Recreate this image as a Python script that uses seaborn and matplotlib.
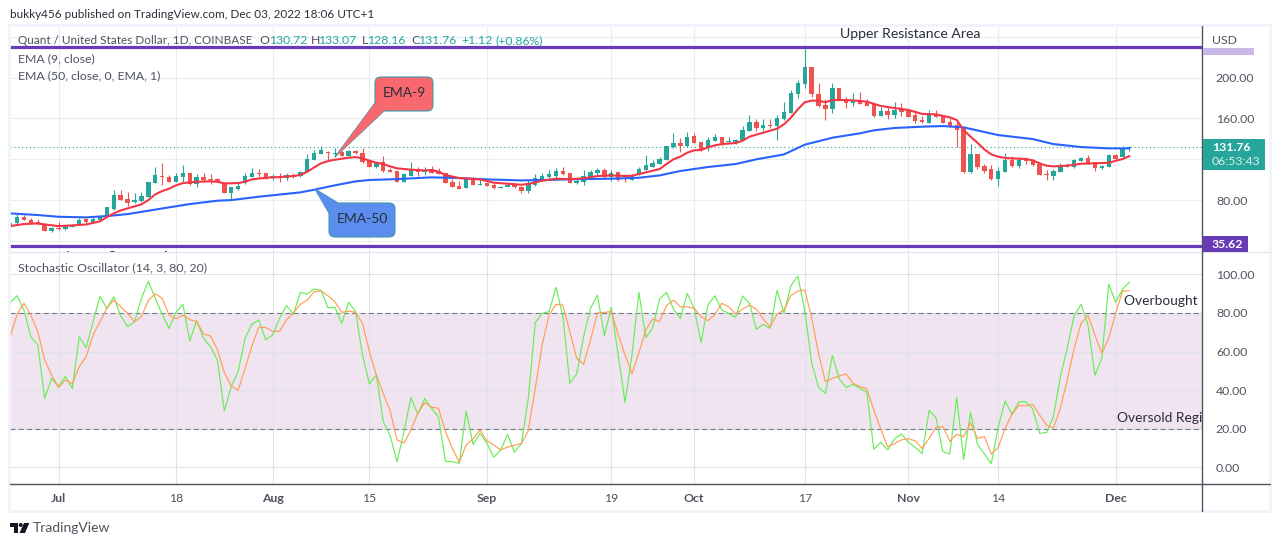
"""
plot.py
Quant / USD daily chart with EMA lines and a stochastic oscillator pane.
"""

import matplotlib.pyplot as plt
import pandas as pd
import seaborn as sns
from matplotlib.lines import Line2D
from matplotlib.patches import Circle, FancyBboxPatch, Polygon, Rectangle
from matplotlib.transforms import Affine2D

first_day = "2022-06-24"
offset_base = pd.Timestamp("2022-07-01")

candle_open = [54.3, 57.5, 63.7, 60.8, 59.2, 57.2, 50.0, 53.0, 51.7, 54.3, 56.9, 61.4, 58.2, 60.8, 64.0, 71.2, 84.9, 81.0, 78.4, 79.3,
    83.3, 97.3, 103.8, 103.1, 98.2, 103.1, 106.4, 96.0, 102.8, 100.8, 100.8, 97.3, 87.5, 91.4, 97.3, 102.8, 107.0, 106.4, 102.1, 103.1,
    101.8, 104.8, 104.1, 107.7, 119.4, 125.3, 127.6, 125.3, 127.6, 123.3, 128.2, 125.9, 118.4, 112.2, 117.8, 109.6, 108.7, 98.2, 103.8, 110.6,
    107.4, 110.6, 109.0, 106.4, 97.6, 94.0, 92.4, 100.5, 95.3, 97.3, 95.0, 92.4, 93.4, 96.0, 93.4, 89.1, 94.7, 99.9, 102.5, 104.1,
    108.7, 106.4, 97.3, 98.2, 103.1, 106.7, 109.6, 103.1, 107.4, 105.1, 99.9, 104.8, 109.6, 112.9, 115.5, 119.4, 131.8, 136.0, 133.1, 142.5,
    137.0, 130.8, 138.0, 141.6, 137.0, 137.0, 139.0, 147.7, 156.2, 150.3, 153.9, 152.6, 159.1, 165.7, 184.2, 193.7, 210.3, 183.9, 173.1, 169.6,
    189.8, 179.3, 175.4, 178.0, 176.4, 174.1, 162.7, 167.0, 163.4, 169.2, 168.3, 163.4, 158.5, 155.9, 164.4, 162.7, 156.5, 153.6, 149.7, 107.4,
    125.3, 113.5, 110.3, 100.8, 108.0, 119.4, 113.9, 119.4, 118.8, 115.8, 105.7, 104.1, 108.0, 112.6, 112.9, 118.8, 121.0, 117.1, 111.9, 112.9,
    124.3, 122.7, 130.72]
candle_high = [59.2, 66.3, 65.7, 62.4, 61.4, 57.9, 53.6, 59.2, 55.5, 56.5, 62.4, 62.4, 63.4, 64.4, 73.5, 90.1, 90.1, 88.5, 87.5, 88.5,
    98.2, 112.9, 116.2, 104.4, 106.4, 114.5, 107.0, 105.7, 107.0, 105.7, 101.8, 97.9, 93.4, 98.2, 106.4, 111.3, 110.3, 106.7, 105.7, 106.4,
    107.0, 107.0, 108.3, 125.3, 129.2, 133.1, 128.5, 130.8, 128.5, 129.2, 129.2, 130.8, 118.7, 117.1, 123.3, 111.3, 109.0, 106.4, 117.1, 112.9,
    112.9, 113.9, 111.3, 107.0, 100.5, 99.2, 101.2, 103.1, 101.2, 97.9, 97.3, 93.7, 97.3, 96.6, 93.7, 99.9, 105.7, 107.0, 109.6, 111.3,
    112.9, 107.0, 100.5, 109.6, 109.6, 111.6, 111.6, 109.6, 108.0, 105.7, 105.7, 112.9, 124.3, 119.4, 122.7, 133.5, 145.5, 140.6, 146.8, 145.5,
    137.3, 141.6, 144.8, 142.2, 141.6, 139.9, 152.6, 163.4, 159.1, 159.1, 159.1, 163.4, 176.1, 187.8, 197.6, 227.9, 210.6, 194.3, 178.7, 194.3,
    190.1, 181.3, 185.2, 186.2, 178.7, 174.4, 170.9, 170.9, 175.8, 174.8, 169.6, 168.3, 162.7, 168.3, 168.3, 163.4, 160.1, 158.5, 151.3, 135.0,
    125.6, 115.5, 114.5, 112.9, 125.9, 123.6, 122.0, 122.0, 120.1, 116.2, 109.6, 110.3, 116.2, 116.2, 120.1, 122.7, 124.3, 117.8, 114.5, 125.3,
    125.3, 133.1, 133.07]
candle_low = [53.6, 56.9, 60.5, 56.9, 56.2, 50.4, 48.7, 51.0, 51.4, 54.0, 56.5, 58.2, 57.9, 60.5, 63.7, 70.6, 80.0, 74.5, 77.1, 78.7,
    83.0, 97.0, 95.0, 98.0, 97.9, 98.2, 94.7, 93.4, 98.2, 95.6, 97.9, 87.3, 80.3, 90.1, 96.0, 102.5, 103.1, 100.8, 99.9, 98.2,
    99.9, 101.5, 103.1, 107.4, 119.0, 124.9, 119.4, 122.7, 123.0, 123.0, 125.6, 116.8, 112.6, 111.9, 107.7, 107.7, 97.9, 97.9, 103.5, 104.1,
    104.8, 106.4, 105.4, 96.6, 93.0, 90.8, 92.1, 94.7, 95.0, 93.7, 90.7, 92.1, 93.1, 92.4, 87.5, 87.5, 94.4, 99.5, 102.1, 101.5,
    104.4, 97.0, 96.0, 95.0, 102.8, 103.8, 100.8, 98.9, 98.6, 98.2, 99.5, 104.4, 109.3, 112.2, 115.2, 119.0, 131.5, 127.6, 131.8, 135.7,
    128.5, 128.5, 137.7, 134.1, 136.6, 135.0, 138.7, 147.4, 148.1, 148.1, 151.0, 139.0, 158.8, 165.4, 180.3, 190.1, 181.3, 170.9, 158.5, 165.7,
    177.7, 170.5, 172.2, 173.8, 172.2, 161.7, 162.4, 159.8, 160.1, 162.4, 161.4, 155.9, 155.9, 155.6, 161.4, 155.6, 152.0, 132.4, 106.4, 106.4,
    110.3, 107.0, 99.9, 94.3, 107.7, 112.2, 111.6, 115.2, 113.5, 104.5, 99.9, 99.9, 107.4, 112.2, 111.3, 118.5, 115.2, 109.0, 110.9, 112.6,
    120.1, 122.4, 128.16]
candle_close = [58.2, 64.0, 60.8, 57.5, 56.9, 50.4, 53.0, 51.7, 54.9, 55.9, 60.8, 59.2, 61.8, 63.4, 73.2, 84.9, 80.3, 77.7, 80.3, 84.2,
    97.9, 104.8, 102.5, 98.2, 103.8, 106.4, 96.0, 102.8, 99.9, 99.5, 98.2, 87.5, 92.7, 94.3, 104.1, 106.4, 105.7, 101.2, 103.8, 102.1,
    104.4, 103.1, 107.4, 120.4, 126.2, 128.9, 126.6, 125.9, 123.3, 128.5, 125.9, 117.8, 112.9, 116.5, 108.3, 108.0, 98.2, 105.7, 110.6, 107.4,
    109.6, 107.0, 105.7, 96.9, 93.4, 91.1, 100.5, 95.0, 96.3, 94.0, 92.4, 93.4, 95.0, 92.7, 89.1, 97.3, 101.5, 103.8, 105.7, 108.7,
    106.1, 97.3, 98.9, 103.8, 107.7, 109.6, 102.5, 107.0, 99.9, 103.1, 103.8, 110.6, 114.5, 116.2, 120.4, 133.1, 136.0, 133.1, 142.2, 136.0,
    130.2, 139.0, 142.2, 136.3, 137.6, 139.0, 148.7, 156.5, 151.0, 153.6, 152.6, 160.4, 166.0, 184.9, 194.3, 210.3, 183.9, 172.2, 169.6, 189.8,
    178.0, 175.4, 178.0, 174.1, 172.5, 162.4, 167.0, 163.4, 168.3, 166.6, 161.7, 157.5, 156.9, 164.0, 161.7, 155.9, 153.0, 149.0, 107.4, 125.3,
    112.9, 108.7, 100.8, 108.3, 119.4, 113.5, 119.4, 118.8, 114.5, 104.8, 104.4, 108.7, 112.2, 113.5, 119.4, 121.0, 115.5, 111.9, 113.5, 124.3,
    120.4, 130.8, 131.76]

# days counted from Jul 1, the lines were read at these days
ema9_days = [-7, -5, -3, -2, 0, 2, 4, 6, 7, 8, 9, 10, 12, 13, 14, 15, 16, 17, 18, 20, 22, 23, 24, 26, 27, 28, 30, 32, 34, 35, 36, 37, 38, 39,
    40, 42, 43, 44, 45, 46, 47, 48, 49, 51, 53, 54, 55, 56, 58, 61, 63, 65, 67, 68, 70, 72, 74, 76, 78, 80, 82, 83, 84, 85, 87, 88, 89, 90,
    91, 92, 93, 94, 95, 96, 98, 99, 100, 101, 102, 104, 105, 106, 107, 108, 109, 110, 111, 112, 114, 116, 117, 119, 121, 123, 125, 127, 129,
    130, 131, 132, 133, 134, 135, 136, 137, 139, 140, 141, 142, 143, 144, 146, 148, 150, 152, 154, 155]
ema9_values = [54.9, 56.9, 57.5, 56.5, 54.9, 55.6, 56.5, 59.5, 63.7, 67.3, 70.2, 72.2, 76.1, 80.3, 85.9, 89.1, 91.4, 94.7, 96.9, 98.2, 98.6, 98.2, 96.6, 96.9, 98.2, 100.5, 102.1, 102.8, 103.8, 104.8, 108.0, 112.2, 116.2, 118.4,
    119.7, 121.7, 122.3, 121.0, 118.8, 116.8, 115.5, 113.2, 111.3, 110.0, 109.3, 109.6, 108.0, 104.8, 101.8, 100.5, 97.3, 96.3, 95.3, 96.0, 99.2, 101.2, 100.8, 101.5, 103.8, 104.4, 103.8, 104.1, 105.7, 107.4, 110.6, 115.5, 120.1, 122.7,
    126.6, 128.9, 129.2, 131.8, 133.7, 135.0, 136.0, 138.3, 142.2, 144.2, 146.1, 150.0, 154.3, 160.8, 168.9, 175.8, 177.4, 177.4, 175.8, 178.0, 178.0, 177.1, 176.4, 172.2, 170.2, 168.3, 164.4, 164.0, 161.1,
    158.5, 148.7, 142.2, 136.3, 129.8, 124.9, 122.7, 121.4, 120.7, 120.4, 119.1, 116.2, 113.9, 113.2, 113.9, 115.8, 116.2, 116.8, 120.4, 123.3]

ema50_days = [-7, -3, 0, 4, 7, 10, 13, 16, 19, 23, 25, 29, 35, 37, 40, 43, 45, 49, 54, 58, 62, 67, 70, 76, 80, 84, 87, 90, 94, 98, 101, 105, 108, 112, 116,
    118, 121, 125, 128, 131, 136, 141, 144, 148, 152, 155]
ema50_values = [67.3, 65.7, 64.0, 63.4, 64.7, 66.6, 69.9, 73.2, 76.4, 79.7, 80.3, 83.6, 87.8, 90.4, 94.7, 98.6, 99.9, 100.8, 102.5, 101.8, 100.5, 99.5, 99.9, 100.8, 101.2, 102.1, 104.4, 108.7, 112.6, 115.5, 120.1, 124.9, 134.4, 141.2, 145.5,
    148.4, 150.7, 152.0, 152.6, 151.3, 143.8, 139.9, 135.0, 132.1, 130.8, 130.8]

stoch_k = [85.3, 88.9, 81.5, 67.7, 63.4, 35.7, 46.1, 41.8, 47.1, 40.9, 67.7, 62.0, 75.5, 88.6, 82.4, 88.4, 78.4, 72.9, 75.5, 87.6,
    96.4, 87.6, 79.3, 72.0, 80.3, 84.5, 65.5, 76.0, 66.8, 62.5, 55.6, 29.2, 41.8, 49.6, 66.8, 74.3, 76.3, 66.1, 68.6, 77.2,
    83.8, 79.3, 90.7, 89.8, 92.4, 91.7, 82.7, 82.9, 74.6, 85.5, 80.7, 58.2, 43.3, 47.8, 23.7, 16.4, 2.9, 18.5, 36.1, 27.5,
    35.7, 30.6, 25.9, 3.1, 2.9, 2.1, 29.2, 11.9, 17.6, 12.4, 5.2, 9.0, 17.1, 7.8, 12.4, 35.7, 75.0, 79.8, 80.7, 93.3,
    78.4, 43.5, 48.4, 67.7, 82.4, 89.3, 68.2, 82.9, 58.2, 33.7, 58.2, 90.7, 67.2, 72.4, 87.2, 90.7, 82.0, 77.2, 90.1, 82.4,
    64.8, 84.1, 88.9, 81.5, 79.8, 77.7, 88.8, 85.0, 71.5, 74.1, 72.0, 91.7, 79.8, 94.1, 99.1, 81.5, 54.4, 41.4, 38.3, 57.9,
    45.8, 41.4, 43.0, 40.9, 38.9, 9.3, 13.0, 9.0, 14.7, 17.3, 13.0, 10.4, 7.1, 29.4, 25.7, 8.1, 6.9, 36.3, 4.0, 28.5,
    11.9, 6.9, 1.9, 20.7, 34.4, 27.5, 34.0, 34.0, 30.2, 17.6, 18.1, 26.3, 47.0, 61.7, 78.6, 84.5, 73.7, 47.7, 56.5, 95.0,
    85.5, 92.4, 96.0]
stoch_d = [67.7, 79.3, 85.0, 78.9, 70.3, 55.6, 47.8, 41.4, 45.2, 43.3, 52.2, 57.3, 68.6, 75.5, 82.4, 86.7, 83.2, 79.8, 75.5, 78.1,
    86.4, 90.0, 87.6, 78.9, 77.0, 78.8, 76.5, 75.5, 69.1, 68.0, 61.1, 49.2, 42.1, 39.9, 51.3, 62.9, 72.7, 72.4, 70.5, 70.5,
    76.5, 80.0, 84.5, 86.7, 91.0, 91.5, 88.9, 85.8, 80.3, 81.0, 80.3, 74.6, 59.9, 47.8, 38.3, 29.2, 14.2, 12.6, 19.3, 28.0,
    33.5, 31.1, 30.6, 18.5, 9.8, 2.6, 11.6, 14.7, 19.3, 13.8, 11.6, 9.0, 10.5, 11.4, 12.3, 19.0, 40.9, 63.4, 78.9, 84.5,
    84.1, 70.3, 56.5, 53.4, 66.0, 80.0, 80.3, 80.7, 68.9, 58.2, 48.4, 59.4, 71.2, 76.9, 75.5, 83.8, 86.7, 83.2, 83.2, 82.4,
    78.1, 76.0, 79.3, 85.0, 83.2, 79.4, 82.0, 84.1, 81.9, 76.9, 72.7, 79.4, 81.5, 88.9, 91.4, 91.9, 77.7, 59.1, 44.4, 46.1,
    47.3, 48.4, 43.5, 41.8, 40.6, 29.7, 19.9, 10.7, 12.3, 14.2, 14.9, 13.6, 9.8, 15.0, 20.7, 21.1, 13.5, 17.1, 15.9, 23.1,
    15.0, 15.9, 6.9, 10.2, 20.2, 27.5, 32.1, 31.8, 32.6, 27.1, 21.9, 20.4, 30.6, 45.2, 61.7, 74.6, 78.8, 68.6, 59.1, 66.8,
    79.8, 91.4, 91.4]

upper_level = 229.6
lower_level = 35.62
last_price = 131.76
overbought = 80
oversold = 20

price_grid = [40, 80, 120, 160, 200, 240]
price_labels = ["", "80.00", "", "160.00", "200.00", ""]
stoch_grid = [0, 20, 40, 60, 80, 100]
stoch_labels = ["0.00", "20.00", "40.00", "60.00", "80.00", "100.00"]
date_ticks = ["2022-07-01", "2022-07-18", "2022-08-01", "2022-08-15", "2022-09-01", "2022-09-19",
    "2022-10-01", "2022-10-17", "2022-11-01", "2022-11-14", "2022-12-01"]
date_labels = ["Jul", "18", "Aug", "15", "Sep", "19", "Oct", "17", "Nov", "14", "Dec"]

UP = "#26A69A"
DOWN = "#EF5350"
GRID = "#E6EDF3"
TEXT = "#50535E"
PURPLE = "#673AB7"
FONT = "Lato"
W, H = 1280, 546

sns.set_theme(style="white")
plt.rcParams["font.family"] = [FONT, "DejaVu Sans"]


def from_offsets(days):
    return offset_base + pd.to_timedelta(days, unit="D")


dates = pd.date_range(first_day, periods=len(candle_open))
candles = pd.DataFrame({"date": dates, "open": candle_open, "high": candle_high,
    "low": candle_low, "close": candle_close})
candles["color"] = [UP if c >= o else DOWN for o, c in zip(candle_open, candle_close)]
ema9 = pd.DataFrame({"date": from_offsets(ema9_days), "value": ema9_values})
ema50 = pd.DataFrame({"date": from_offsets(ema50_days), "value": ema50_values})
stoch = pd.DataFrame({"date": dates, "k": stoch_k, "d": stoch_d})

fig = plt.figure(figsize=(W / 100, H / 100), dpi=100)
px = Affine2D().scale(1, -1).translate(0, H)  # picture pixels, y going down

ax_price = fig.add_axes([10 / W, 1 - 252 / H, 1192 / W, 226 / H])
ax_stoch = fig.add_axes([10 / W, 1 - 483.7 / H, 1192 / W, 231.7 / H])

xlim = (offset_base + pd.Timedelta(days=-7.02), offset_base + pd.Timedelta(days=165.5))
tick_dates = pd.to_datetime(date_ticks)

# price pane
ax_price.set_xlim(xlim)
ax_price.set_ylim(29.6, 250.3)
ax_price.set_yticks(price_grid, price_labels)
ax_price.set_xticks(tick_dates, [""] * len(tick_dates))
ax_price.grid(True, color=GRID, lw=0.8)
ax_price.set_axisbelow(True)

ax_price.axhline(last_price, color=UP, lw=0.8, ls=(0, (1, 2.5)), zorder=1.5)
ax_price.vlines(candles["date"], candles["low"], candles["high"], colors=candles["color"], lw=0.8, zorder=2)
ax_price.bar(candles["date"], (candles["close"] - candles["open"]).abs(),
    bottom=candles[["open", "close"]].min(axis=1), width=0.64, color=candles["color"], lw=0, zorder=2)
sns.lineplot(data=ema50, x="date", y="value", ax=ax_price, color="#2962FF", lw=1.5, zorder=3, estimator=None, errorbar=None)
sns.lineplot(data=ema9, x="date", y="value", ax=ax_price, color="#F23645", lw=1.5, zorder=4, estimator=None, errorbar=None)

ax_price.text(18, 41, "Quant / United States Dollar, 1D, COINBASE", transform=px, color=TEXT, fontsize=8.5, va="center", zorder=5)
for x, s, c in [(259, "O", TEXT), (269, "130.72", UP), (311, "H", TEXT), (318, "133.07", UP), (362, "L", TEXT),
        (367, "128.16", UP), (411, "C", TEXT), (418, "131.76", UP), (461, "+1.12", UP), (495, "(+0.86%)", UP)]:
    ax_price.text(x, 41, s, transform=px, color=c, fontsize=8.8, va="center", zorder=5)
ax_price.text(18, 59, "EMA (9, close)", transform=px, color=TEXT, fontsize=8.8, va="center", zorder=5)
ax_price.text(18, 76, "EMA (50, close, 0, EMA, 1)", transform=px, color=TEXT, fontsize=8.8, va="center", zorder=5)
ax_price.text(840, 34, "Upper Resistance Area", transform=px, color="#2A2E39", fontsize=10.1, va="center", zorder=5)
ax_price.text(66, 257, "Lower Support Area", transform=px, color="#2A2E39", fontsize=10.1, va="center", zorder=5, clip_on=True)

ax_price.axhline(upper_level, color=PURPLE, lw=2.3, zorder=6)
ax_price.axhline(lower_level, color=PURPLE, lw=2.3, zorder=6)

# stochastic pane
ax_stoch.set_xlim(xlim)
ax_stoch.set_ylim(-8.5, 111.6)
ax_stoch.set_yticks(stoch_grid, stoch_labels)
ax_stoch.set_xticks(tick_dates, date_labels)
ax_stoch.axhspan(oversold, overbought, color="#F0E4F0", lw=0, zorder=0.5)
ax_stoch.grid(True, color="#DDE2EC", lw=0.8)
ax_stoch.set_axisbelow(True)
for y in (overbought, oversold):
    ax_stoch.axhline(y, color="#787B86", lw=0.8, ls=(0, (4.5, 3)), zorder=2)
sns.lineplot(data=stoch, x="date", y="k", ax=ax_stoch, color="#66EE55", lw=0.85, zorder=3, estimator=None, errorbar=None)
sns.lineplot(data=stoch, x="date", y="d", ax=ax_stoch, color="#FF9E54", lw=0.85, zorder=4, estimator=None, errorbar=None)

ax_stoch.text(18, 268, "Stochastic Oscillator (14, 3, 80, 20)", transform=px, color=TEXT, fontsize=8.9, va="center", zorder=5)
ax_stoch.text(1124, 301, "Overbought Region", transform=px, color="#2A2E39", fontsize=9.9, va="center", zorder=5, clip_on=True)
ax_stoch.text(1117, 418, "Oversold Region", transform=px, color="#2A2E39", fontsize=9.9, va="center", zorder=5, clip_on=True)

for ax in (ax_price, ax_stoch):
    ax.set_xlabel("")
    ax.set_ylabel("")
    ax.yaxis.tick_right()
    ax.tick_params(axis="both", length=0, labelsize=8.8, labelcolor=TEXT)
    ax.tick_params(axis="y", pad=10)
    ax.tick_params(axis="x", pad=7)
    ax.patch.set_alpha(0)
    sns.despine(ax=ax, left=True, bottom=True, right=True, top=True)
for label, text in zip(ax_stoch.get_xticklabels(), date_labels):
    if text.isalpha():
        label.set_fontweight("bold")


def add(artist, z=10):
    artist.set_zorder(z)
    fig.add_artist(artist)


# chart frame, axis lines and price labels
add(Rectangle((9, 25), 1261, 486, fill=False, ec="#F0F3FA", lw=2, transform=px), 0.5)
add(Line2D([10, 1270], [252, 252], color="#E0E3EB", lw=0.8, transform=px), 5)
add(Line2D([10, 1270], [483.7, 483.7], color=TEXT, lw=1, transform=px), 5)
add(Line2D([1202.3, 1202.3], [26, 511], color=TEXT, lw=1, transform=px), 5)
add(Rectangle((1203, 48), 51, 7, color="#C9B8E8", lw=0, transform=px))
add(Rectangle((1203, 139), 62, 31, color=UP, lw=0, transform=px))
add(Rectangle((1203, 236), 45, 15.7, color=PURPLE, lw=0, transform=px))
fig.text(1212, 40, "USD", transform=px, color=TEXT, fontsize=8.8, va="center", zorder=11)
fig.text(1212, 147.5, "131.76", transform=px, color="white", fontsize=8.8, fontweight="bold", va="center", zorder=11)
fig.text(1212, 161.5, "06:53:43", transform=px, color="#D8F0EC", fontsize=8.8, va="center", zorder=11)
fig.text(1212, 244.5, "35.62", transform=px, color="white", fontsize=8.8, fontweight="bold", va="center", zorder=11)

# header and footer
fig.text(10, 15, "bukky456 published on TradingView.com, Dec 03, 2022 18:06 UTC+1", transform=px,
    color="#2A2E39", fontsize=8.5, va="center", zorder=11)
fig.text(33, 528, "TradingView", transform=px, color=TEXT, fontsize=10, va="center", zorder=11)
add(Polygon([(10, 523), (18, 523), (18, 533), (14, 533), (14, 527), (10, 527)], color="#131722", lw=0, transform=px))
add(Circle((20.7, 525), 2, color="#131722", lw=0, transform=px))
add(Polygon([(24, 523), (29.3, 523), (25, 533), (19.5, 533)], color="#131722", lw=0, transform=px))

# callouts
EDGE = "#3F9AA8"
for box, tip, fill, label in [((375, 77, 58, 34), [(335, 157), (375, 103), (384, 111)], "#F7686F", "EMA-9"),
        ((329, 203, 66, 34), [(315, 189), (329, 213), (338, 203)], "#5B8DEF", "EMA-50")]:
    bx, by, bw, bh = box
    add(Polygon(tip, fc=fill, ec=EDGE, lw=0.8, transform=px), 8)
    add(FancyBboxPatch((bx, by), bw, bh, boxstyle="round,pad=0,rounding_size=6", fc=fill, ec=EDGE, lw=0.8, transform=px), 8.1)
    add(Polygon(tip, fc=fill, ec="none", lw=0, transform=px), 8.2)
    fig.text(bx + bw / 2, by + bh / 2 - 1, label, transform=px, color="#2A2E39", fontsize=10, ha="center", va="center", zorder=11)

fig.savefig("out.png", dpi=100)
